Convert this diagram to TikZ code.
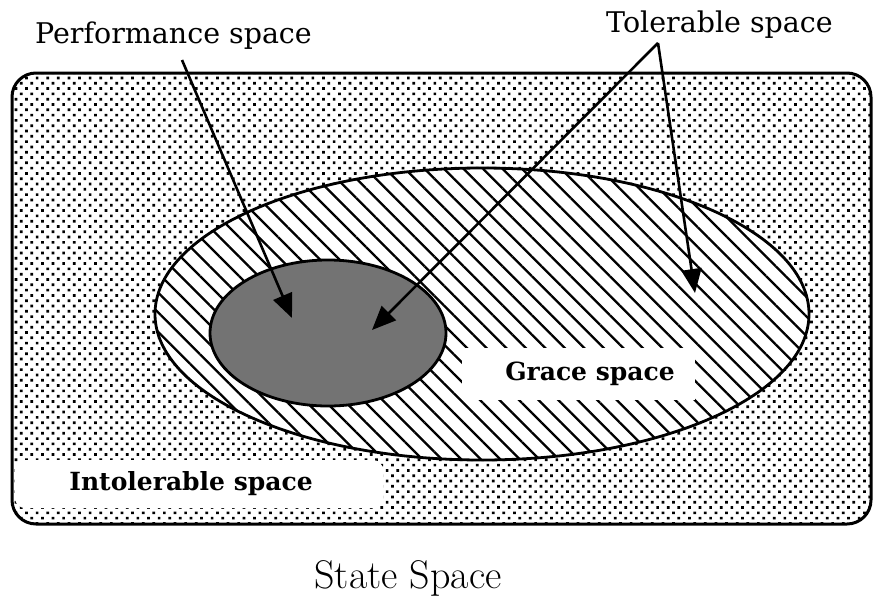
\documentclass[tikz,border=0pt]{standalone}
\usepackage{fontspec}
\newfontfamily\labelfont{DejaVu Serif}
\usetikzlibrary{arrows.meta,patterns.meta}
\tikzset{
  spacelabel/.style={font=\labelfont\fontsize{28.5}{30}\selectfont, inner sep=0pt, anchor=base west},
  boldlabel/.style={font=\labelfont\fontsize{25}{27}\selectfont\bfseries, fill=white, inner sep=0pt},
  pointer/.style={line width=2.6pt, -{Triangle[length=24pt,width=20pt]}},
}
\begin{document}
\begin{tikzpicture}[x=1pt,y=-1pt]
\useasboundingbox (0,0) rectangle (873,603);
\draw[line width=3pt, rounded corners=24pt, pattern={Dots[radius=1.9pt, distance=7.5pt, angle=45]}] (12,73) rectangle (871,524);
\fill[white] (482,314) ellipse [x radius=327, y radius=146];
\draw[line width=2.8pt, pattern={Lines[angle=-45, distance=13.8pt, line width=2.3pt]}] (482,314) ellipse [x radius=327, y radius=146];
\draw[line width=2.8pt, fill=black!55] (328,333) ellipse [x radius=118, y radius=73];
\fill[white] (462,348) rectangle (695,400);
\node[boldlabel] (grace) at (590,374) {Grace space};
\fill[white, rounded corners=10pt] (15,460) rectangle (383,508);
\node[boldlabel] (intol) at (191,484) {Intolerable space};
\node[spacelabel] (perf) at (35,43) {Performance space};
\node[spacelabel] (tol) at (606,32) {Tolerable space};
\node[font=\fontsize{40}{42}\selectfont, inner sep=0pt, anchor=base] (state) at (408,588) {State Space};
\coordinate (perfstart) at (182,60);
\coordinate (perftip) at (292,318);
\coordinate (tolapex) at (658,43);
\coordinate (toltipa) at (372,330);
\coordinate (toltipb) at (695,293);
\draw[pointer] (perfstart) -- (perftip);
\draw[pointer] (tolapex) -- (toltipa);
\draw[pointer] (tolapex) -- (toltipb);
\end{tikzpicture}
\end{document}
